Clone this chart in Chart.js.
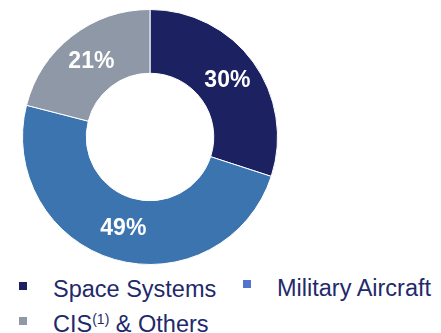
<!DOCTYPE html>
<html lang="en">
<head>
    <meta charset="UTF-8">
    <title>Segment split</title>
    <script src="https://cdn.jsdelivr.net/npm/chart.js"></script>
    <style>
        body {
            margin: 0;
            background: #fff;
            font-family: 'Liberation Sans', Arial, sans-serif;
            width: 441px;
            height: 333px;
            overflow: hidden;
            position: relative;
        }
        #chartBox {
            position: absolute;
            left: 22px;
            top: 9px;
            width: 256px;
            height: 256px;
        }
        .leg {
            position: absolute;
            font-size: 23.5px;
            color: #1f2a6b;
            white-space: nowrap;
            line-height: 1;
        }
        .leg i {
            position: absolute;
            width: 8px;
            height: 8px;
        }
        .leg sup {
            font-size: 14px;
            vertical-align: 0;
            position: relative;
            top: -8px;
        }
    </style>
</head>
<body>
    <div id="chartBox"><canvas id="pie"></canvas></div>
    <div id="legend"></div>

    <script>
    const labels = ['Space Systems', 'Military Aircraft', 'CIS & Others'];
    const shares = [30, 49, 21];
    const sliceColors = ['#1b2161', '#3b74ae', '#8f98a6'];
    const legendColors = ['#1b2161', '#5174cf', '#8f98a6'];

    // legend placed like the slide: two on the first row, one below
    const legendSpots = [
        { x: 19, y: 279, text: 'Space Systems' },
        { x: 243, y: 278, text: 'Military Aircraft' },
        { x: 19, y: 314, text: 'CIS<sup>(1)</sup> &amp; Others' }
    ];
    const legend = document.getElementById('legend');
    legendSpots.forEach(function (s, i) {
        const d = document.createElement('div');
        d.className = 'leg';
        d.style.left = s.x + 'px';
        d.style.top = s.y + 'px';
        d.innerHTML = '<i style="left:0;top:' + (i === 1 ? 2 : 3) + 'px;background:' + legendColors[i] + '"></i>' +
            '<span style="position:absolute;left:34px;top:-1px">' + s.text + '</span>';
        legend.appendChild(d);
    });

    const pctLabels = {
        id: 'pctLabels',
        afterDatasetsDraw(chart) {
            const ctx = chart.ctx;
            const meta = chart.getDatasetMeta(0);
            ctx.save();
            ctx.fillStyle = '#ffffff';
            ctx.font = 'bold 23px "Liberation Sans", Arial, sans-serif';
            ctx.textAlign = 'center';
            ctx.textBaseline = 'middle';
            meta.data.forEach(function (arc, i) {
                const p = arc.tooltipPosition();
                ctx.fillText(shares[i] + '%', p.x, p.y);
            });
            ctx.restore();
        }
    };

    new Chart(document.getElementById('pie'), {
        type: 'doughnut',
        data: {
            labels: labels,
            datasets: [{
                data: shares,
                backgroundColor: sliceColors,
                borderColor: '#ffffff',
                borderWidth: 1
            }]
        },
        options: {
            responsive: true,
            maintainAspectRatio: false,
            animation: false,
            cutout: '50%',
            layout: { padding: 0 },
            plugins: {
                legend: { display: false },
                tooltip: { enabled: false }
            }
        },
        plugins: [pctLabels]
    });
    </script>
</body>
</html>
